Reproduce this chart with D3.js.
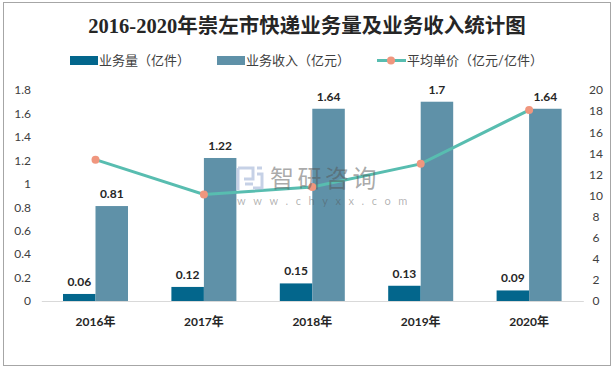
<!DOCTYPE html>
<html>
<head>
<meta charset="utf-8">
<script src="https://cdn.jsdelivr.net/npm/d3@7"></script>
<style>
html, body { margin: 0; padding: 0; background: #fff; }
svg { display: block; }
text { font-family: Lato, "Noto Sans CJK SC", sans-serif; }
</style>
</head>
<body>
<div id="chart"></div>
<script>
const years   = ['2016年', '2017年', '2018年', '2019年', '2020年'];
const volume  = [0.06, 0.12, 0.15, 0.13, 0.09];
const revenue = [0.81, 1.22, 1.64, 1.7, 1.64];
const price   = [13.4, 10.1, 10.8, 13.0, 18.1];
const leftTicks  = [0, 0.2, 0.4, 0.6, 0.8, 1, 1.2, 1.4, 1.6, 1.8];
const rightTicks = [0, 2, 4, 6, 8, 10, 12, 14, 16, 18, 20];
const names = ['业务量（亿件）', '业务收入（亿元）', '平均单价（亿元/亿件）'];

const width = 614, height = 371;
const margin = {top: 90, right: 30.7, bottom: 70, left: 41.3};
const bottom = height - margin.bottom;
const colors = {volume: '#03668c', revenue: '#5f91a8', line: '#58bdb0', dot: '#f0967e'};

const svg = d3.select('#chart').append('svg')
    .attr('width', width)
    .attr('height', height);

svg.append('rect')
    .attr('x', 3.5).attr('y', 2.5)
    .attr('width', 607).attr('height', 363)
    .attr('fill', '#fff')
    .attr('stroke', '#a6a6a6');

const x = d3.scaleBand().domain(years).range([margin.left, width - margin.right]);
const bw = 32.5;
const yLeft = d3.scaleLinear().domain([0, 1.8]).range([bottom, margin.top]);
const yRight = d3.scaleLinear().domain([0, 20]).range([bottom, margin.top]);
const cx = d => x(d) + x.bandwidth() / 2;

svg.append('text')
    .attr('x', 307).attr('y', 33)
    .attr('text-anchor', 'middle')
    .attr('font-size', 20.5)
    .attr('font-weight', 'bold')
    .attr('fill', '#262626')
    .style('font-family', '"Liberation Serif", "Noto Sans CJK SC", serif')
    .text('2016-2020年崇左市快递业务量及业务收入统计图');

// legend
const legend = svg.append('g').attr('font-size', 13).attr('fill', '#404040');
legend.append('rect').attr('x', 70).attr('y', 56).attr('width', 28).attr('height', 9).attr('fill', colors.volume);
legend.append('text').attr('x', 99).attr('y', 65).text(names[0]);
legend.append('rect').attr('x', 217).attr('y', 56).attr('width', 28).attr('height', 9).attr('fill', colors.revenue);
legend.append('text').attr('x', 246).attr('y', 65).text(names[1]);
legend.append('line').attr('x1', 377).attr('x2', 406).attr('y1', 60.5).attr('y2', 60.5)
    .attr('stroke', colors.line).attr('stroke-width', 3);
legend.append('circle').attr('cx', 391).attr('cy', 60.5).attr('r', 4).attr('fill', colors.dot);
legend.append('text').attr('x', 407).attr('y', 65).text(names[2]);

// axes
const axisL = d3.axisLeft(yLeft).tickValues(leftTicks).tickSize(0).tickPadding(0).tickFormat(d => d);
const axisR = d3.axisRight(yRight).tickValues(rightTicks).tickSize(0).tickPadding(0).tickFormat(d => d);
const axisB = d3.axisBottom(x).tickSize(0).tickPadding(16);

const gL = svg.append('g').attr('transform', `translate(31,0)`).call(axisL);
gL.select('.domain').remove();
gL.selectAll('text').attr('font-size', 12).attr('fill', '#404040').style('font-family', null);

const gR = svg.append('g').attr('transform', `translate(596,0)`).call(axisR);
gR.select('.domain').remove();
gR.selectAll('text').attr('font-size', 12).attr('fill', '#404040').style('font-family', null).attr('text-anchor', 'middle');

const gB = svg.append('g').attr('transform', `translate(0,${bottom})`).call(axisB);
gB.select('.domain').attr('stroke', '#d9d9d9');
gB.selectAll('text').attr('font-size', 12).attr('font-weight', 'bold').attr('fill', '#262626').style('font-family', null);

// bars
svg.selectAll('rect.vol').data(years).enter().append('rect')
    .attr('class', 'vol')
    .attr('x', d => cx(d) - bw)
    .attr('y', (d, i) => yLeft(volume[i]))
    .attr('width', bw)
    .attr('height', (d, i) => bottom - yLeft(volume[i]))
    .attr('fill', colors.volume);

svg.selectAll('rect.rev').data(years).enter().append('rect')
    .attr('class', 'rev')
    .attr('x', d => cx(d))
    .attr('y', (d, i) => yLeft(revenue[i]))
    .attr('width', bw)
    .attr('height', (d, i) => bottom - yLeft(revenue[i]))
    .attr('fill', colors.revenue);

// line
const lineGen = d3.line()
    .x((d, i) => cx(years[i]))
    .y(d => yRight(d));

svg.append('path')
    .datum(price)
    .attr('fill', 'none')
    .attr('stroke', colors.line)
    .attr('stroke-width', 3)
    .attr('d', lineGen);

svg.selectAll('circle.pt').data(price).enter().append('circle')
    .attr('class', 'pt')
    .attr('cx', (d, i) => cx(years[i]))
    .attr('cy', d => yRight(d))
    .attr('r', 4)
    .attr('fill', colors.dot);

// value labels
const labelStyle = sel => sel
    .attr('text-anchor', 'middle')
    .attr('font-size', 12)
    .attr('font-weight', 'bold')
    .attr('fill', '#262626');

svg.selectAll('text.volLabel').data(volume).enter().append('text')
    .attr('class', 'volLabel')
    .attr('x', (d, i) => cx(years[i]) - bw / 2)
    .attr('y', d => yLeft(d) - 8)
    .text(d => d)
    .call(labelStyle);

svg.selectAll('text.revLabel').data(revenue).enter().append('text')
    .attr('class', 'revLabel')
    .attr('x', (d, i) => cx(years[i]) + bw / 2)
    .attr('y', d => yLeft(d) - 8)
    .text(d => d)
    .call(labelStyle);

// watermark
const wm = svg.append('g');
wm.append('text').attr('x', 270).attr('y', 186.5)
    .attr('font-size', 24).attr('fill', '#555').attr('fill-opacity', 0.5)
    .attr('letter-spacing', 3.5)
    .style('font-family', '"Noto Sans CJK SC"')
    .text('智研咨询');
wm.append('text').attr('x', 237).attr('y', 205)
    .attr('font-size', 11).attr('fill', '#555').attr('fill-opacity', 0.45)
    .attr('letter-spacing', 7.6)
    .text('www.chyxx.com');
wm.append('path')
    .attr('d', 'M238 168h15v11h-9M238 168v22M245 184h8M257 168h5M257 174h5v14h-9')
    .attr('fill', 'none')
    .attr('stroke', '#b8c6e0')
    .attr('stroke-opacity', 0.8)
    .attr('stroke-width', 3);
</script>
</body>
</html>
